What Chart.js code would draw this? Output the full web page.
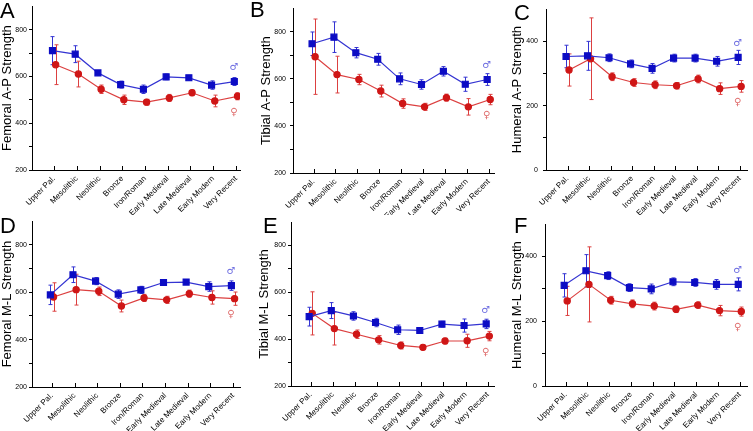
<!DOCTYPE html>
<html lang="en">
<head>
<meta charset="UTF-8">
<title>Limb bone strength by period</title>
<script src="https://cdn.jsdelivr.net/npm/chart.js"></script>
<style>
  body { margin: 0; background: #fff; }
  #wrap { position: relative; width: 753px; height: 431px; }
  canvas { position: absolute; }
</style>
</head>
<body>
<div id="wrap">
  <canvas id="chartA" width="250" height="215" style="left:0;top:0"></canvas>
  <canvas id="chartB" width="250" height="215" style="left:250px;top:0"></canvas>
  <canvas id="chartC" width="253" height="215" style="left:500px;top:0"></canvas>
  <canvas id="chartD" width="250" height="216" style="left:0;top:215px"></canvas>
  <canvas id="chartE" width="250" height="216" style="left:250px;top:215px"></canvas>
  <canvas id="chartF" width="253" height="216" style="left:500px;top:215px"></canvas>
</div>
<script>
// periods on the x axis
const periods = ['Upper Pal.', 'Mesolithic', 'Neolithic', 'Bronze', 'Iron/Roman',
                 'Early Medieval', 'Late Medieval', 'Early Modern', 'Very Recent'];

// A - femoral A-P
const femApMale      = [710, 695, 615, 565, 545, 598, 594, 563, 578];
const femApMaleErr   = [60, 36, 10, 15, 18, 12, 10, 18, 17];
const femApFemale    = [650, 610, 545, 500, 490, 508, 530, 495, 515];
const femApFemaleErr = [85, 55, 18, 20, 12, 15, 12, 25, 15];

// B - tibial A-P
const tibApMale      = [749, 777, 711, 683, 600, 576, 632, 577, 597];
const tibApMaleErr   = [50, 65, 22, 25, 25, 20, 20, 30, 25];
const tibApFemale    = [694, 618, 597, 548, 495, 481, 520, 481, 512];
const tibApFemaleErr = [160, 78, 22, 25, 20, 15, 15, 35, 22];

// C - humeral A-P
const humApMale      = [353, 355, 349, 330, 316, 348, 348, 338, 350];
const humApMaleErr   = [35, 45, 12, 12, 15, 12, 12, 15, 22];
const humApFemale    = [311, 346, 290, 272, 265, 262, 283, 253, 260];
const humApFemaleErr = [50, 127, 12, 12, 12, 10, 12, 18, 18];

// D - femoral M-L
const femMlMale      = [589, 674, 647, 592, 610, 641, 643, 624, 628];
const femMlMaleErr   = [41, 33, 15, 18, 15, 12, 10, 20, 20];
const femMlFemale    = [580, 611, 604, 542, 576, 568, 594, 578, 573];
const femMlFemaleErr = [60, 65, 18, 25, 15, 15, 15, 28, 28];

// E - tibial M-L
const tibMlMale      = [496, 522, 499, 471, 440, 437, 464, 458, 465];
const tibMlMaleErr   = [40, 34, 18, 18, 20, 12, 12, 28, 20];
const tibMlFemale    = [510, 445, 421, 397, 373, 365, 392, 393, 413];
const tibMlFemaleErr = [92, 70, 18, 18, 15, 10, 12, 28, 20];

// F - humeral M-L
const humMlMale      = [311, 356, 341, 304, 300, 322, 320, 314, 314];
const humMlMaleErr   = [36, 50, 12, 12, 15, 12, 12, 15, 20];
const humMlFemale    = [263, 314, 265, 254, 247, 237, 250, 233, 230];
const humMlFemaleErr = [45, 116, 12, 12, 12, 10, 10, 16, 14];

const maleMarker = '#0c0cc4', maleLine = '#3434d2';
const femaleMarker = '#cf1616', femaleLine = '#dc4040';
const FONT = "'Liberation Sans', Arial, sans-serif";

// error bars, drawn with the y scale
const errorBars = {
  id: 'errorBars',
  beforeDatasetsDraw(chart) {
    const ctx = chart.ctx, y = chart.scales.y;
    chart.data.datasets.forEach((ds, di) => {
      const meta = chart.getDatasetMeta(di);
      ctx.save();
      ctx.strokeStyle = ds.borderColor;
      ctx.lineWidth = 1;
      meta.data.forEach((pt, i) => {
        const v = ds.data[i].y, e = ds.errors[i];
        const top = y.getPixelForValue(v + e), bot = y.getPixelForValue(v - e);
        const x = Math.round(pt.x) + 0.5;
        ctx.beginPath();
        ctx.moveTo(x, top); ctx.lineTo(x, bot);
        ctx.moveTo(x - 2, top); ctx.lineTo(x + 2, top);
        ctx.moveTo(x - 2, bot); ctx.lineTo(x + 2, bot);
        ctx.stroke();
      });
      ctx.restore();
    });
  }
};

// panel letter, inward x ticks, sex symbols
const panelDeco = {
  id: 'panelDeco',
  afterDraw(chart, args, opts) {
    const ctx = chart.ctx, x = chart.scales.x, area = chart.chartArea;
    ctx.save();
    ctx.strokeStyle = '#000';
    ctx.lineWidth = 1;
    ctx.beginPath();
    periods.forEach((p, i) => {
      const px = Math.round(x.getPixelForValue(i)) + 0.5;
      ctx.moveTo(px, area.bottom);
      ctx.lineTo(px, area.bottom - 4);
    });
    ctx.stroke();

    ctx.fillStyle = '#000';
    ctx.font = '22px ' + FONT;
    ctx.textBaseline = 'alphabetic';
    ctx.fillText(opts.letter, opts.letterX, opts.letterY);

    const last = periods.length - 1;
    const mPt = chart.getDatasetMeta(0).data[last];
    const fPt = chart.getDatasetMeta(1).data[last];
    const cx = x.getPixelForValue(last) - 2;
    ctx.font = "10px 'DejaVu Sans', sans-serif";
    ctx.textAlign = 'center';
    ctx.textBaseline = 'middle';
    ctx.fillStyle = '#6a6ae0';
    ctx.fillText('\u2642', cx, mPt.y - 14);
    ctx.fillStyle = '#e07070';
    ctx.fillText('\u2640', cx, fPt.y + 16);
    ctx.restore();
  }
};

const panels = [
  { id: 'chartA', letter: 'A', title: 'Femoral A-P Strength', male: femApMale, maleErr: femApMaleErr, female: femApFemale, femaleErr: femApFemaleErr,
    yMin: 200, yMax: 900, yLast: 800, yw: 32, titlePad: 0, tickPad: 2, top: 4, xh: 45, right: 10, xMin: -0.97, xMax: 8.18, letterX: 0, letterY: 18 },
  { id: 'chartB', letter: 'B', title: 'Tibial A-P Strength', male: tibApMale, maleErr: tibApMaleErr, female: tibApFemale, femaleErr: tibApFemaleErr,
    yMin: 200, yMax: 900, yLast: 800, yw: 43, titlePad: 9, tickPad: 4, top: 7, xh: 42, right: 2, xMin: -0.94, xMax: 8.27, letterX: 0, letterY: 17 },
  { id: 'chartC', letter: 'C', title: 'Humeral A-P Strength', male: humApMale, maleErr: humApMaleErr, female: humApFemale, femaleErr: humApFemaleErr,
    yMin: 0, yMax: 500, yLast: 400, yw: 46, titlePad: 10, tickPad: 5, top: 6, xh: 45, right: 3, xMin: -1.0, xMax: 8.37, letterX: 14, letterY: 20 },
  { id: 'chartD', letter: 'D', title: 'Femoral M-L Strength', male: femMlMale, maleErr: femMlMaleErr, female: femMlFemale, femaleErr: femMlFemaleErr,
    yMin: 200, yMax: 900, yLast: 800, yw: 32, titlePad: 0, tickPad: 2, top: 6, xh: 44, right: 10, xMin: -0.88, xMax: 8.31, letterX: 0, letterY: 18 },
  { id: 'chartE', letter: 'E', title: 'Tibial M-L Strength', male: tibMlMale, maleErr: tibMlMaleErr, female: tibMlFemale, femaleErr: tibMlFemaleErr,
    yMin: 200, yMax: 900, yLast: 800, yw: 41, titlePad: 7, tickPad: 2, top: 7, xh: 45, right: 3, xMin: -0.89, xMax: 8.31, letterX: 13, letterY: 18 },
  { id: 'chartF', letter: 'F', title: 'Humeral M-L Strength', male: humMlMale, maleErr: humMlMaleErr, female: humMlFemale, femaleErr: humMlFemaleErr,
    yMin: 0, yMax: 500, yLast: 400, yw: 45, titlePad: 10, tickPad: 5, top: 7, xh: 45, right: 3, xMin: -0.95, xMax: 8.36, letterX: 14, letterY: 18 }
];

panels.forEach(p => {
  new Chart(document.getElementById(p.id), {
    type: 'line',
    data: {
      datasets: [
        { label: 'Male', data: p.male.map((v, i) => ({ x: i - 0.07, y: v })), errors: p.maleErr,
          borderColor: maleLine, borderWidth: 1.2, pointStyle: 'rect', pointRadius: 4.2,
          pointBackgroundColor: maleMarker, pointBorderColor: maleMarker, tension: 0 },
        { label: 'Female', data: p.female.map((v, i) => ({ x: i + 0.07, y: v })), errors: p.femaleErr,
          borderColor: femaleLine, borderWidth: 1.2, pointStyle: 'circle', pointRadius: 3.1,
          pointBackgroundColor: femaleMarker, pointBorderColor: femaleMarker, tension: 0 }
      ]
    },
    options: {
      responsive: false,
      animation: false,
      devicePixelRatio: 1,
      layout: { padding: { top: p.top, right: p.right, left: 0, bottom: 0 } },
      plugins: {
        legend: { display: false },
        tooltip: { enabled: false },
        panelDeco: { letter: p.letter, letterX: p.letterX, letterY: p.letterY }
      },
      scales: {
        x: {
          type: 'linear',
          min: p.xMin, max: p.xMax,
          afterBuildTicks: s => { s.ticks = periods.map((c, i) => ({ value: i })); },
          afterFit: s => { s.height = p.xh; },
          grid: { display: false, drawTicks: false },
          border: { display: true, color: '#000', width: 1 },
          ticks: {
            autoSkip: false, minRotation: 45, maxRotation: 45, padding: 4,
            color: '#000', font: { family: FONT, size: 8 },
            callback: v => periods[v]
          }
        },
        y: {
          min: p.yMin, max: p.yMax,
          afterBuildTicks: s => { s.ticks = s.ticks.filter(t => t.value <= p.yLast); },
          afterFit: s => { s.width = p.yw; },
          grid: { drawOnChartArea: false, drawTicks: true, tickLength: 3, color: '#000', tickColor: '#000' },
          border: { display: true, color: '#000', width: 1 },
          ticks: {
            stepSize: 100, padding: p.tickPad, color: '#000', font: { family: FONT, size: 7 },
            callback: v => (v % 200 === 0 ? v : '')
          },
          title: {
            display: true, text: p.title, color: '#000',
            font: { family: FONT, size: 13 }, padding: { top: p.titlePad, bottom: 0 }
          }
        }
      }
    },
    plugins: [errorBars, panelDeco]
  });
});
</script>
</body>
</html>
